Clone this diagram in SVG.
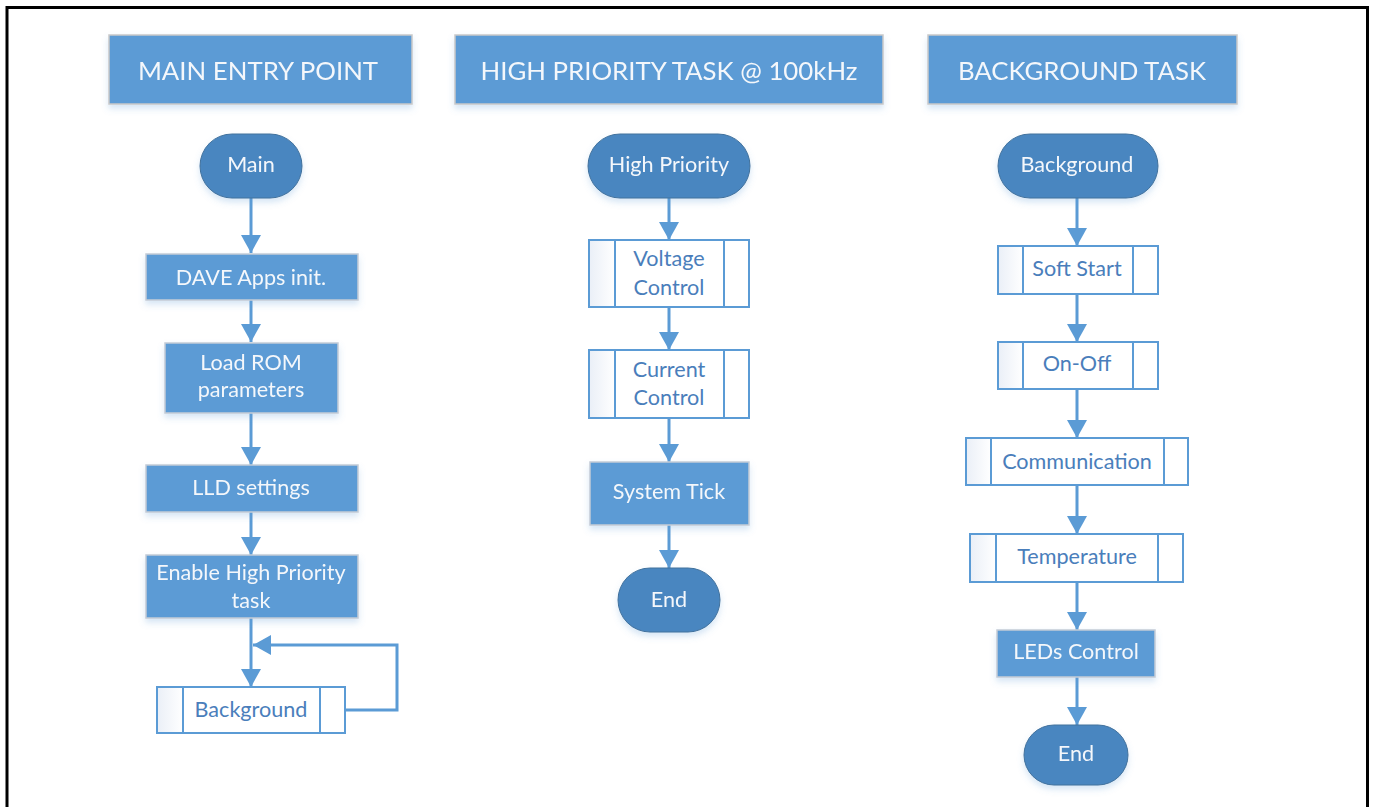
<svg xmlns="http://www.w3.org/2000/svg" width="1375" height="807" viewBox="0 0 1375 807">
<defs>
<style>
.hdr{fill:#5B9BD5;stroke:#C9C9C9;stroke-width:1.5}
.proc{fill:#5B9BD5;stroke:#C4CCD6;stroke-width:1.5}
.term{fill:#4A86C0;stroke:#41719C;stroke-width:1}
.sub{fill:#FFFFFF;stroke:#5B9BD5;stroke-width:2}
.cell{fill:url(#cellg);stroke:#5B9BD5;stroke-width:2}
.sl{stroke:#5B9BD5;stroke-width:2;fill:none}
.ht{font-family:Lato,"Open Sans",sans-serif;font-size:25.8px;fill:#F4F7FB;text-anchor:middle;dominant-baseline:central}
.wt{font-family:Lato,"Open Sans",sans-serif;font-size:21.6px;fill:#F4F7FB;text-anchor:middle;dominant-baseline:central}
.bt{font-family:Lato,"Open Sans",sans-serif;font-size:21.6px;fill:#4A7EBB;text-anchor:middle;dominant-baseline:central}
.conn{stroke:#5B9BD5;stroke-width:3;fill:none}
</style>
<linearGradient id="cellg" x1="0" y1="0" x2="1" y2="0">
<stop offset="0" stop-color="#EAEFF7"/>
<stop offset="1" stop-color="#FFFFFF"/>
</linearGradient>
<filter id="sh" x="-10%" y="-20%" width="120%" height="160%">
<feDropShadow dx="0" dy="4" stdDeviation="3" flood-color="#5B9BD5" flood-opacity="0.25"/>
</filter>
<marker id="ah" markerUnits="userSpaceOnUse" markerWidth="22" markerHeight="22" viewBox="0 0 22 22" refX="18" refY="11" orient="auto">
<path d="M0,1 L18,11 L0,21 Z" fill="#5B9BD5"/>
</marker>
</defs>
<rect x="0" y="0" width="1375" height="807" fill="#FFFFFF"/>
<path d="M7,812 V7.5 H1367.5 V812" fill="none" stroke="#000" stroke-width="3"/>

<g id="header-main" filter="url(#sh)"><rect class="hdr" x="109" y="35" width="303" height="69"/><text class="ht" x="258" y="70">MAIN ENTRY POINT</text></g>
<g id="header-high" filter="url(#sh)"><rect class="hdr" x="455" y="35" width="428" height="69"/><text class="ht" x="669" y="70">HIGH PRIORITY TASK @ 100kHz</text></g>
<g id="header-bg" filter="url(#sh)"><rect class="hdr" x="928" y="35" width="309" height="69"/><text class="ht" x="1082" y="70">BACKGROUND TASK</text></g>

<g id="connectors">
<line class="conn" x1="251" y1="198" x2="251" y2="253" marker-end="url(#ah)"/>
<line class="conn" x1="251" y1="300" x2="251" y2="342" marker-end="url(#ah)"/>
<line class="conn" x1="251" y1="413" x2="251" y2="465" marker-end="url(#ah)"/>
<line class="conn" x1="251" y1="512" x2="251" y2="555" marker-end="url(#ah)"/>
<line class="conn" x1="251" y1="618" x2="251" y2="687" marker-end="url(#ah)"/>
<polyline class="conn" points="345,710 397,710 397,645 253,645" marker-end="url(#ah)"/>
<line class="conn" x1="669" y1="198" x2="669" y2="240" marker-end="url(#ah)"/>
<line class="conn" x1="669" y1="307" x2="669" y2="350" marker-end="url(#ah)"/>
<line class="conn" x1="669" y1="418" x2="669" y2="462" marker-end="url(#ah)"/>
<line class="conn" x1="669" y1="525" x2="669" y2="568" marker-end="url(#ah)"/>
<line class="conn" x1="1077" y1="198" x2="1077" y2="246" marker-end="url(#ah)"/>
<line class="conn" x1="1077" y1="294" x2="1077" y2="342" marker-end="url(#ah)"/>
<line class="conn" x1="1077" y1="389" x2="1077" y2="438" marker-end="url(#ah)"/>
<line class="conn" x1="1077" y1="485" x2="1077" y2="534" marker-end="url(#ah)"/>
<line class="conn" x1="1077" y1="582" x2="1077" y2="630" marker-end="url(#ah)"/>
<line class="conn" x1="1077" y1="677" x2="1077" y2="725" marker-end="url(#ah)"/>
</g>

<g id="main" filter="url(#sh)"><rect class="term" x="200" y="134" width="102" height="64" rx="32"/><text class="wt" x="251" y="164">Main</text></g>
<g id="dave" filter="url(#sh)"><rect class="proc" x="146" y="254" width="212" height="46"/><text class="wt" x="251" y="277">DAVE Apps init.</text></g>
<g id="loadrom" filter="url(#sh)"><rect class="proc" x="165" y="343" width="173" height="70"/><text class="wt" x="251" y="362">Load ROM</text><text class="wt" x="251" y="389">parameters</text></g>
<g id="lld" filter="url(#sh)"><rect class="proc" x="146" y="465" width="212" height="47"/><text class="wt" x="251" y="487">LLD settings</text></g>
<g id="enable" filter="url(#sh)"><rect class="proc" x="146" y="555" width="212" height="63"/><text class="wt" x="251" y="572">Enable High Priority</text><text class="wt" x="251" y="600">task</text></g>
<g id="bgcall"><rect class="sub" x="157" y="687" width="188" height="46"/><rect class="cell" x="157" y="687" width="26" height="46"/><line class="sl" x1="320" y1="687" x2="320" y2="733"/><text class="bt" x="251" y="709">Background</text></g>

<g id="highpri" filter="url(#sh)"><rect class="term" x="588" y="134" width="162" height="64" rx="32"/><text class="wt" x="669" y="164">High Priority</text></g>
<g id="voltage"><rect class="sub" x="589" y="240" width="160" height="67"/><rect class="cell" x="589" y="240" width="26" height="67"/><line class="sl" x1="724" y1="240" x2="724" y2="307"/><text class="bt" x="669" y="258">Voltage</text><text class="bt" x="669" y="287">Control</text></g>
<g id="current"><rect class="sub" x="589" y="350" width="160" height="68"/><rect class="cell" x="589" y="350" width="26" height="68"/><line class="sl" x1="724" y1="350" x2="724" y2="418"/><text class="bt" x="669" y="369">Current</text><text class="bt" x="669" y="397">Control</text></g>
<g id="systick" filter="url(#sh)"><rect class="proc" x="590" y="462" width="159" height="63"/><text class="wt" x="669" y="491">System Tick</text></g>
<g id="end1" filter="url(#sh)"><rect class="term" x="618" y="568" width="102" height="64" rx="32"/><text class="wt" x="669" y="599">End</text></g>

<g id="background" filter="url(#sh)"><rect class="term" x="998" y="134" width="160" height="64" rx="32"/><text class="wt" x="1077" y="164">Background</text></g>
<g id="softstart"><rect class="sub" x="998" y="246" width="160" height="48"/><rect class="cell" x="998" y="246" width="25" height="48"/><line class="sl" x1="1133" y1="246" x2="1133" y2="294"/><text class="bt" x="1077" y="268">Soft Start</text></g>
<g id="onoff"><rect class="sub" x="998" y="342" width="160" height="47"/><rect class="cell" x="998" y="342" width="25" height="47"/><line class="sl" x1="1133" y1="342" x2="1133" y2="389"/><text class="bt" x="1077" y="363">On-Off</text></g>
<g id="comm"><rect class="sub" x="966" y="438" width="222" height="47"/><rect class="cell" x="966" y="438" width="25" height="47"/><line class="sl" x1="1164" y1="438" x2="1164" y2="485"/><text class="bt" x="1077" y="461">Communication</text></g>
<g id="temp"><rect class="sub" x="970" y="534" width="213" height="48"/><rect class="cell" x="970" y="534" width="26" height="48"/><line class="sl" x1="1158" y1="534" x2="1158" y2="582"/><text class="bt" x="1077" y="556">Temperature</text></g>
<g id="leds" filter="url(#sh)"><rect class="proc" x="997" y="630" width="158" height="47"/><text class="wt" x="1076" y="651">LEDs Control</text></g>
<g id="end2" filter="url(#sh)"><rect class="term" x="1024" y="725" width="104" height="60" rx="30"/><text class="wt" x="1076" y="753">End</text></g>
</svg>
